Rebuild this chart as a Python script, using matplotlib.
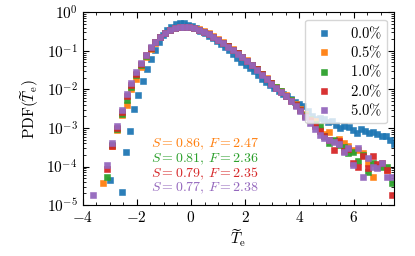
import numpy as np
import matplotlib
matplotlib.use("Agg")
import matplotlib.pyplot as plt

plt.rcParams['font.family'] = 'serif'
plt.rcParams['font.serif'] = ['cmr10']
plt.rcParams['mathtext.fontset'] = 'cm'
plt.rcParams['axes.formatter.use_mathtext'] = True

nan = np.nan

# bin centres (0% run and the runs with added fraction)
x_ref = [-3.00, -2.85, -2.70, -2.54, -2.39, -2.24, -2.09, -1.94, -1.78, -1.63,
         -1.48, -1.33, -1.18, -1.02, -0.87, -0.72, -0.57, -0.42, -0.26, -0.11,
         0.04, 0.19, 0.34, 0.50, 0.65, 0.80, 0.95, 1.10, 1.26, 1.41,
         1.56, 1.71, 1.86, 2.02, 2.17, 2.32, 2.47, 2.62, 2.78, 2.93,
         3.08, 3.23, 3.38, 3.54, 3.69, 3.84, 3.99, 4.14, 4.30, 4.45,
         4.60, 4.75, 4.90, 5.06, 5.21, 5.36, 5.51, 5.66, 5.82, 5.97,
         6.12, 6.27, 6.42, 6.58, 6.73, 6.88, 7.03, 7.18, 7.34, 7.49]

x_mix = [-3.62, -3.44, -3.26, -3.09, -2.91, -2.73, -2.55, -2.37, -2.20, -2.02,
         -1.84, -1.66, -1.48, -1.31, -1.13, -0.95, -0.77, -0.59, -0.42, -0.24,
         -0.06, 0.12, 0.30, 0.47, 0.65, 0.83, 1.01, 1.19, 1.36, 1.54,
         1.72, 1.90, 2.08, 2.25, 2.43, 2.61, 2.79, 2.97, 3.14, 3.32,
         3.50, 3.68, 3.86, 4.03, 4.21, 4.39, 4.57, 4.75, 4.92, 5.10,
         5.28, 5.46, 5.64, 5.81, 5.99, 6.17, 6.35, 6.53, 6.70, 6.88,
         7.06, 7.24, 7.42]

# log10(PDF)
log_p00 = [-4.36, nan, nan, -4.66, -3.63, -3.09, -2.50, -2.14, -1.79, -1.48,
           -1.22, -0.98, -0.76, -0.60, -0.46, -0.37, -0.31, -0.28, -0.29, -0.32,
           -0.36, -0.42, -0.48, -0.55, -0.61, -0.67, -0.74, -0.81, -0.90, -0.99,
           -1.09, -1.18, -1.28, -1.37, -1.45, -1.53, -1.62, -1.72, -1.81, -1.89,
           -1.97, -2.05, -2.12, -2.18, -2.25, -2.32, -2.38, -2.44, -2.55, -2.68,
           -2.78, -2.74, -2.78, -2.84, -2.82, -2.92, -3.00, -2.95, -2.97, -3.06,
           -3.12, -3.02, -3.09, -3.13, -3.10, -3.16, -3.22, -3.20, -3.30, -3.42]

log_p05 = [nan, nan, -4.43, nan, -3.48, -3.05, -2.66, -2.40, -1.99, -1.72,
           -1.43, -1.17, -0.96, -0.80, -0.65, -0.54, -0.46, -0.41, -0.38, -0.37,
           -0.38, -0.41, -0.44, -0.49, -0.55, -0.62, -0.70, -0.78, -0.87, -0.96,
           -1.05, -1.15, -1.25, -1.36, -1.47, -1.59, -1.71, -1.83, -1.94, -2.04,
           -2.15, -2.27, -2.39, -2.51, -2.64, -2.80, -2.82, -3.05, -3.15, -3.11,
           -3.35, -3.29, -3.40, -3.48, -3.58, -3.57, -3.65, -3.90, -4.26, nan,
           nan, -4.10, nan]

log_p10 = [nan, nan, nan, -4.28, -3.45, -3.02, -2.64, -2.27, -1.93, -1.63,
           -1.37, -1.14, -0.93, -0.78, -0.64, -0.54, -0.46, -0.41, -0.38, -0.37,
           -0.38, -0.41, -0.45, -0.50, -0.56, -0.63, -0.71, -0.79, -0.88, -0.97,
           -1.06, -1.16, -1.26, -1.37, -1.48, -1.60, -1.72, -1.84, -1.95, -2.05,
           -2.16, -2.28, -2.40, -2.53, -2.66, -2.78, -2.90, -2.96, -3.20, -3.39,
           -3.30, -3.44, -3.50, -3.65, -3.62, -3.87, -3.70, -4.15, -3.90, -4.00,
           -4.02, -4.02, -4.43]

log_p20 = [nan, nan, nan, -4.07, -3.47, -2.99, -2.58, -2.18, -1.88, -1.59,
           -1.34, -1.12, -0.92, -0.77, -0.63, -0.53, -0.46, -0.41, -0.38, -0.37,
           -0.38, -0.41, -0.45, -0.50, -0.56, -0.63, -0.71, -0.79, -0.88, -0.97,
           -1.06, -1.16, -1.26, -1.37, -1.48, -1.60, -1.72, -1.84, -1.96, -2.06,
           -2.17, -2.29, -2.41, -2.54, -2.68, -2.80, -2.96, -3.09, -3.22, -3.31,
           -3.57, -3.35, -3.61, -3.55, -3.91, -4.00, -3.72, -4.04, -3.72, -3.93,
           -3.90, -4.10, -4.73]

log_p50 = [-4.73, nan, nan, -3.96, -3.40, -2.95, -2.53, -2.13, -1.84, -1.56,
           -1.31, -1.10, -0.91, -0.76, -0.63, -0.53, -0.46, -0.41, -0.38, -0.37,
           -0.38, -0.41, -0.45, -0.50, -0.57, -0.64, -0.72, -0.80, -0.89, -0.98,
           -1.07, -1.17, -1.27, -1.38, -1.49, -1.62, -1.74, -1.86, -1.97, -2.07,
           -2.18, -2.30, -2.42, -2.56, -2.71, -2.88, -3.04, -3.17, -3.25, -3.32,
           -3.37, -3.41, -3.63, -3.52, -3.95, -3.52, -4.26, -3.78, -4.02, -4.04,
           -3.92, -4.26, -4.28]

labels = ['0.0%', '0.5%', '1.0%', '2.0%', '5.0%']
colors = ['#1f77b4', '#ff7f0e', '#2ca02c', '#d62728', '#9467bd']
S_vals = [0.86, 0.81, 0.79, 0.77]
F_vals = [2.47, 2.36, 2.35, 2.38]

fig = plt.figure(figsize=(4.15, 2.56), dpi=100)
ax = fig.add_axes([0.199, 0.199, 0.751, 0.753])

series = [(x_ref, log_p00), (x_mix, log_p05), (x_mix, log_p10),
          (x_mix, log_p20), (x_mix, log_p50)]
for (xs, ls), lab, c in zip(series, labels, colors):
    ys = 10.0 ** np.array(ls)
    ax.plot(xs, ys, 's', color=c, ms=4.0, mew=0.4, mec=c, alpha=0.95,
            label=r'$%s\%%$' % lab[:-1])

ax.set_yscale('log')
ax.set_xlim(-4, 7.5)
ax.set_ylim(1e-5, 1)
ax.set_xticks([-4, -2, 0, 2, 4, 6])
ax.set_xticks(np.arange(-4, 7.6, 0.5), minor=True)
ax.tick_params(which='both', direction='in', top=True, right=True, labelsize=11)
ax.tick_params(which='major', length=4)
ax.tick_params(which='minor', length=2)

ax.set_xlabel(r'$\widetilde{T}_\mathrm{e}$', fontsize=11, labelpad=2)
ax.set_ylabel(r'$\mathrm{PDF}(\widetilde{T}_\mathrm{e})$', fontsize=11)

for i, (s, f) in enumerate(zip(S_vals, F_vals)):
    ax.text(-1.46, 10 ** (-3.42 - 0.385 * i), r'$S = %.2f,\, F = %.2f$' % (s, f),
            color=colors[i + 1], fontsize=10, va='center', ha='left')

ax.legend(loc='upper right', fontsize=10.5, numpoints=1, labelspacing=0.2,
          handlelength=1.8, handletextpad=0.9, borderpad=0.35)

fig.savefig('out.png', dpi=100)
